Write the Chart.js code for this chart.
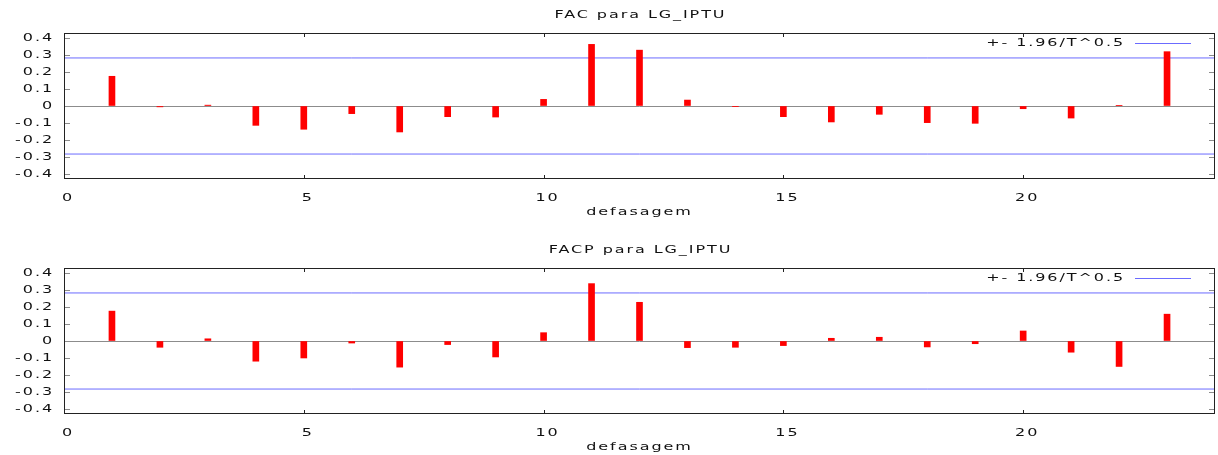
<!DOCTYPE html>
<html lang="pt">
<head>
    <meta charset="UTF-8">
    <title>FAC e FACP para LG_IPTU</title>
    <style>
        body {
            margin: 0;
            background: #fff;
            overflow: hidden;
        }
        canvas {
            display: block;
        }
    </style>
</head>
<body>
    <canvas id="facChart" width="1218" height="235"></canvas>
    <canvas id="facpChart" width="1218" height="235"></canvas>

    <script src="https://cdn.jsdelivr.net/npm/chart.js"></script>
    <script>
        // lags 1..23
        const lags = [1, 2, 3, 4, 5, 6, 7, 8, 9, 10, 11, 12, 13, 14, 15, 16, 17, 18, 19, 20, 21, 22, 23];
        const facValues = [0.175, -0.005, 0.005, -0.114, -0.137, -0.045, -0.153, -0.063, -0.065, 0.039, 0.363, 0.329,
                           0.035, -0.002, -0.063, -0.094, -0.049, -0.098, -0.102, -0.016, -0.071, 0.004, 0.320];
        const facpValues = [0.176, -0.037, 0.013, -0.119, -0.100, -0.012, -0.154, -0.021, -0.094, 0.049, 0.338, 0.228,
                            -0.039, -0.037, -0.027, 0.016, 0.022, -0.035, -0.016, 0.059, -0.066, -0.150, 0.158];
        const bandValue = 0.283;
        const bandLabel = '+- 1.96/T^0.5';
        const yTickValues = [0.4, 0.3, 0.2, 0.1, 0, -0.1, -0.2, -0.3, -0.4];
        const xTickValues = [0, 5, 10, 15, 20];

        const textColor = '#111';
        const fontSpec = '10px "DejaVu Sans"';
        Chart.defaults.font.family = '"DejaVu Sans", sans-serif';
        Chart.defaults.font.size = 10;
        Chart.defaults.color = textColor;

        // gnuplot-style wide lettering
        function widenText(canvas) {
            const ctx = canvas.getContext('2d');
            const fill = ctx.fillText;
            ctx.fillText = function (text, x, y) {
                this.save();
                this.letterSpacing = '1.2px';
                this.translate(x, y);
                this.scale(1.6, 1);
                fill.call(this, text, 0, 0);
                this.restore();
            };
        }

        // title over the plot, closed frame, inward ticks and the key
        const framePlugin = {
            id: 'frame',
            afterDatasetsDraw(chart) {
                const { ctx, chartArea: a, scales: { x, y } } = chart;
                ctx.save();
                ctx.lineWidth = 1;

                ctx.strokeStyle = '#8c8c8c';
                ctx.beginPath();
                y.ticks.forEach(t => {
                    const py = Math.round(y.getPixelForValue(t.value)) + 0.5;
                    ctx.moveTo(a.left, py);
                    ctx.lineTo(a.left + 6, py);
                    ctx.moveTo(a.right, py);
                    ctx.lineTo(a.right - 6, py);
                });
                ctx.stroke();

                ctx.strokeStyle = '#222';
                ctx.beginPath();
                x.ticks.forEach(t => {
                    const px = Math.round(x.getPixelForValue(t.value)) + 0.5;
                    ctx.moveTo(px, a.top);
                    ctx.lineTo(px, a.top + 4);
                    ctx.moveTo(px, a.bottom);
                    ctx.lineTo(px, a.bottom - 4);
                });
                ctx.stroke();
                ctx.strokeRect(Math.round(a.left) + 0.5, Math.round(a.top) + 0.5,
                               Math.round(a.width) - 1, Math.round(a.height) - 1);

                ctx.fillStyle = textColor;
                ctx.font = fontSpec;
                ctx.textBaseline = 'middle';
                ctx.textAlign = 'center';
                ctx.fillText(chart.data.datasets[0].label, (a.left + a.right) / 2 + 1, 15);

                // key, top right
                const ds = chart.data.datasets[1];
                const ky = Math.round(a.top + 10) + 0.5;
                ctx.strokeStyle = ds.borderColor;
                ctx.beginPath();
                ctx.moveTo(a.right - 80, ky);
                ctx.lineTo(a.right - 24, ky);
                ctx.stroke();
                ctx.textAlign = 'right';
                ctx.fillText(ds.label, a.right - 90, ky);
                ctx.restore();
            }
        };

        function makeChart(id, title, values) {
            const canvas = document.getElementById(id);
            widenText(canvas);
            return new Chart(canvas, {
                type: 'bar',
                data: {
                    datasets: [
                        {
                            type: 'bar',
                            label: title,
                            data: lags.map((l, i) => ({ x: l, y: values[i] })),
                            backgroundColor: '#ff0000',
                            borderWidth: 0,
                            barThickness: 6
                        },
                        {
                            type: 'line',
                            label: bandLabel,
                            data: [{ x: 0, y: bandValue }, { x: 24, y: bandValue }],
                            borderColor: '#6b6bff',
                            borderWidth: 1,
                            pointRadius: 0
                        },
                        {
                            type: 'line',
                            label: bandLabel,
                            data: [{ x: 0, y: -bandValue }, { x: 24, y: -bandValue }],
                            borderColor: '#6b6bff',
                            borderWidth: 1,
                            pointRadius: 0
                        }
                    ]
                },
                options: {
                    responsive: false,
                    animation: false,
                    layout: { padding: { left: 0, right: 3, top: 33, bottom: 0 } },
                    plugins: {
                        legend: { display: false },
                        tooltip: { enabled: false },
                        title: { display: false }
                    },
                    scales: {
                        x: {
                            type: 'linear',
                            min: 0,
                            max: 24,
                            offset: false,
                            afterBuildTicks: s => { s.ticks = xTickValues.map(v => ({ value: v })); },
                            afterFit: s => { s.height = 56; },
                            grid: { display: false, offset: false },
                            border: { display: false },
                            ticks: { padding: 5, labelOffset: 4, maxRotation: 0, autoSkip: false, callback: v => String(v) },
                            title: { display: true, text: 'defasagem', padding: { top: 0, bottom: 17 } }
                        },
                        y: {
                            min: -0.43,
                            max: 0.43,
                            afterBuildTicks: s => { s.ticks = yTickValues.map(v => ({ value: v })); },
                            afterFit: s => { s.width = 64; },
                            grid: {
                                drawTicks: false,
                                color: c => (c.tick && Math.abs(c.tick.value) < 1e-9) ? '#8c8c8c' : 'rgba(0,0,0,0)'
                            },
                            border: { display: false },
                            ticks: { padding: 10, callback: v => Math.abs(v) < 1e-9 ? '0' : v.toFixed(1) }
                        }
                    }
                },
                plugins: [framePlugin]
            });
        }

        makeChart('facChart', 'FAC para LG_IPTU', facValues);
        makeChart('facpChart', 'FACP para LG_IPTU', facpValues);
    </script>
</body>
</html>
